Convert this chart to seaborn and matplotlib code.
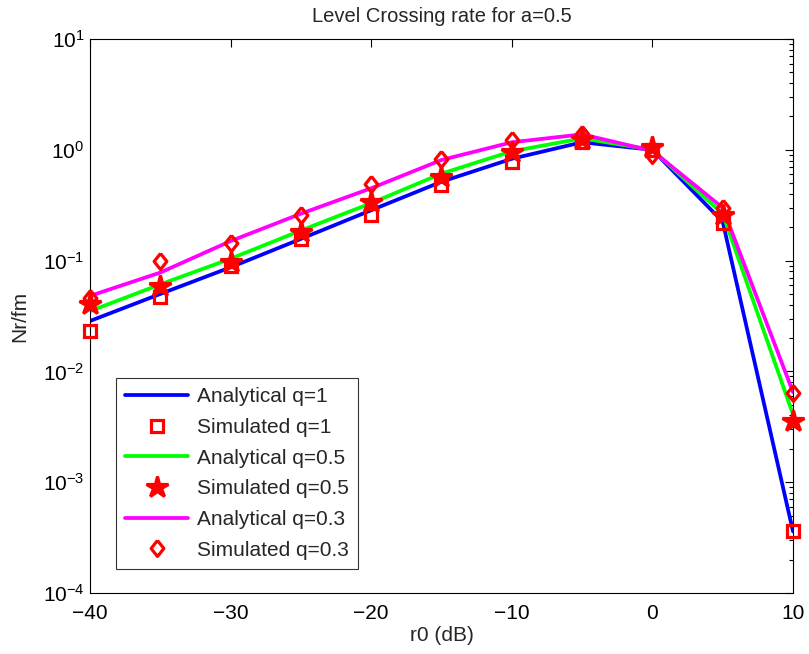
import numpy as np
import pandas as pd
import matplotlib
matplotlib.use("Agg")
import matplotlib.pyplot as plt
import seaborn as sns

# SNR threshold grid (dB)
r0_db = [-40, -35, -30, -25, -20, -15, -10, -5, 0, 5, 10]

# Analytical level crossing rates
analytical_q1 = [0.0285, 0.05, 0.087, 0.157, 0.285, 0.515, 0.83, 1.17, 1.0, 0.225, 3.6e-4]
analytical_q05 = [0.035, 0.061, 0.104, 0.187, 0.33, 0.61, 0.97, 1.27, 1.0, 0.265, 4.1e-3]
analytical_q03 = [0.048, 0.078, 0.150, 0.265, 0.45, 0.81, 1.17, 1.38, 0.98, 0.30, 6.5e-3]

# Simulated level crossing rates
simulated_q1 = [0.0234, 0.047, 0.089, 0.157, 0.257, 0.48, 0.78, 1.18, 1.0, 0.22, 3.6e-4]
simulated_q05 = [0.041, 0.059, 0.097, 0.181, 0.34, 0.57, 0.96, 1.25, 1.07, 0.26, 3.6e-3]
simulated_q03 = [0.046, 0.099, 0.144, 0.257, 0.49, 0.82, 1.22, 1.40, 0.90, 0.30, 6.4e-3]

labels = ["Analytical q=1", "Simulated q=1",
          "Analytical q=0.5", "Simulated q=0.5",
          "Analytical q=0.3", "Simulated q=0.3"]

FS = 15

sns.set_style("white")
plt.rcParams["font.family"] = ["Liberation Sans", "DejaVu Sans"]
plt.rcParams["mathtext.fontset"] = "custom"
plt.rcParams["mathtext.rm"] = "Liberation Sans"
plt.rcParams["mathtext.it"] = "Liberation Sans:italic"
plt.rcParams["mathtext.bf"] = "Liberation Sans:bold"

fig = plt.figure(figsize=(8.09, 6.54), dpi=100)
ax = fig.add_axes([0.1112, 0.0933, 0.869, 0.847])

diamond = [(0, 1), (0.8, 0), (0, -1), (-0.8, 0), (0, 1)]

curves = [
    (analytical_q1, simulated_q1, "#0000ff", "s", 8, "none"),
    (analytical_q05, simulated_q05, "#00ff00", "*", 16, "red"),
    (analytical_q03, simulated_q03, "#ff00ff", diamond, 11.5, "none"),
]

for i, (ana, sim, col, mk, ms, mfc) in enumerate(curves):
    df_a = pd.DataFrame({"r0": r0_db, "N": ana})
    df_s = pd.DataFrame({"r0": r0_db, "N": sim})
    sns.lineplot(data=df_a, x="r0", y="N", ax=ax, color=col, linewidth=2.7,
                 label=labels[2 * i], zorder=2)
    sns.lineplot(data=df_s, x="r0", y="N", ax=ax, color="red", linestyle="",
                 marker=mk, markersize=ms, markerfacecolor=mfc,
                 markeredgecolor="red", markeredgewidth=2.3,
                 label=labels[2 * i + 1], zorder=3, clip_on=False)

ax.set_yscale("log")
ax.set_xlim(-40, 10)
ax.set_ylim(1e-4, 1e1)
ax.set_xticks([-40, -30, -20, -10, 0, 10])
ax.set_xticklabels(["\u221240", "\u221230", "\u221220", "\u221210", "0", "10"])

ax.tick_params(axis="both", which="both", direction="in", top=True, right=True,
               labelsize=FS, colors="black")
ax.tick_params(axis="both", which="major", length=6, width=0.8)
ax.tick_params(axis="y", which="minor", length=3, width=0.8)
ax.tick_params(axis="x", which="major", pad=8)
ax.tick_params(axis="y", which="major", pad=4)
for sp in ax.spines.values():
    sp.set_color("black")
    sp.set_linewidth(0.8)

ax.set_xlabel("r0 (dB)", fontsize=FS, labelpad=2)
ax.set_ylabel("Nr/fm", fontsize=FS, labelpad=10)
ax.set_title("Level Crossing rate for a=0.5", fontsize=14.5, pad=12)

leg = ax.legend(loc="lower left", bbox_to_anchor=(0.037, 0.043), borderaxespad=0,
                fontsize=FS, frameon=True, fancybox=False, edgecolor="black",
                handlelength=3.0, labelspacing=0.56, borderpad=0.45,
                handletextpad=0.45)
leg.get_frame().set_linewidth(0.8)

fig.savefig("out.png", dpi=100, facecolor="white")
